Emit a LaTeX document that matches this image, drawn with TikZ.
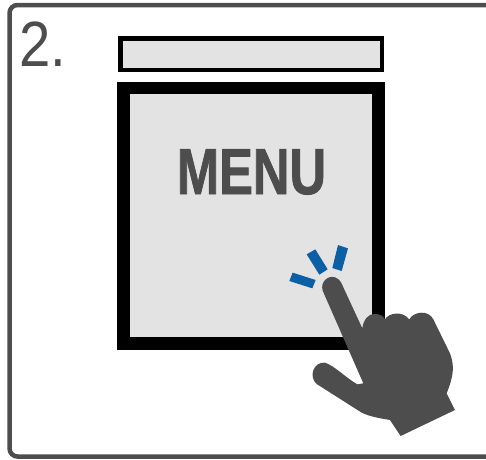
\documentclass[tikz,border=0pt]{standalone}
\usepackage{fontspec}
\setmainfont{Liberation Sans}[BoldFeatures={FakeBold=1.3}]
\definecolor{handgrey}{HTML}{4D4D4D}
\definecolor{panelgrey}{HTML}{E3E3E3}
\definecolor{tapblue}{HTML}{0A5FA5}
\tikzset{
	panel/.style={draw=black, fill=panelgrey, miter limit=10},
	tapmark/.style={fill=tapblue},
}
\begin{document}
\begin{tikzpicture}[x=1pt, y=-1pt]
		\useasboundingbox (0,0) rectangle (486,459);
		
		% Rahmen (rechts offen)
		\draw[handgrey, line width=4.5pt, rounded corners=8pt] (490,5) -- (9.5,5) -- (9.5,456.5) -- (490,456.5);
		\node[handgrey, font=\fontsize{64}{64}\selectfont, xscale=0.88, anchor=base west, inner sep=0pt] (stepnumber) at (19.5,66) {2.};
		
		% Balken und Menue
		\draw[panel, line width=4.5pt] (120.3,38.3) rectangle (381.8,70);
		\draw[panel, line width=12.7pt] (123.4,88) rectangle (378.6,343.6);
		\node[handgrey, font=\bfseries\fontsize{65}{65}\selectfont, xscale=0.78, inner sep=0pt] (menu) at (251.5,172) {MENU};
		
		% Hand, Ausschnitt in Zoom-Koordinaten
		\begin{scope}[shift={(270,230)}, x=0.3333pt, y=-0.3333pt]
			\fill[tapmark] (68,128) -- (137,150) -- (127,175) -- (58,153) -- cycle;
			\fill[tapmark] (110,73) -- (136,58) -- (173,118) -- (148,134) -- cycle;
			\fill[tapmark] (204,45) -- (234,55) -- (215,123) -- (187,114) -- cycle;
			\fill[handgrey] (158,182)
				.. controls (150,155) and (175,135) .. (195,142)
				.. controls (210,147) and (215,160) .. (220,172)
				-- (277,295)
				.. controls (280,270) and (295,250) .. (315,252)
				.. controls (330,252) and (340,258) .. (345,268)
				.. controls (355,250) and (395,240) .. (418,268)
				.. controls (430,245) and (475,238) .. (490,268)
				-- (540,370)
				.. controls (555,410) and (550,440) .. (530,490)
				-- (555,540) -- (392,618) -- (360,570)
				.. controls (330,565) and (300,560) .. (275,548)
				-- (140,462)
				.. controls (115,440) and (130,395) .. (165,398)
				.. controls (190,405) and (230,445) .. (262,463)
				-- (280,460) -- cycle;
		\end{scope}
		
	\end{tikzpicture}
\end{document}
